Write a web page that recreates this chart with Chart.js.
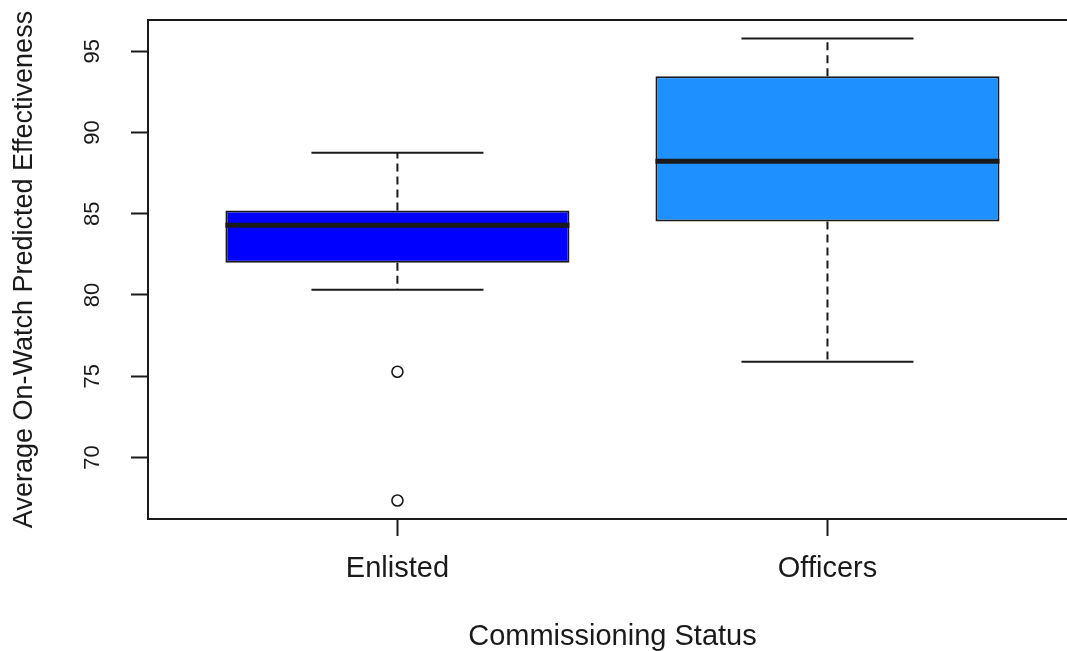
<!DOCTYPE html>
<html>
<head>
<meta charset="utf-8">
<script src="https://cdn.jsdelivr.net/npm/chart.js@4.4.1/dist/chart.umd.min.js"></script>
<style>
  html, body { margin: 0; padding: 0; background: #fff; overflow: hidden; }
</style>
</head>
<body>
<canvas id="boxChart" width="1084" height="651"></canvas>
<script>
const groups = ['Enlisted', 'Officers'];
const q1 = [81.98, 84.52];
const medians = [84.29, 88.23];
const q3 = [85.20, 93.46];
const whiskerLow = [80.32, 75.89];
const whiskerHigh = [88.75, 95.78];
const outliers = [[75.27, 67.35], []];
const yTicks = [70, 75, 80, 85, 90, 95];

const boxColors = ['#0000FF', '#1E90FF'];
const ink = '#1a1a1a';
const FONT = "'Liberation Sans', Arial, sans-serif";

// segmento de linha (mediana, bigode, haste)
function segment(x0, y0, x1, y1, width, dash) {
  return {
    type: 'line',
    data: [{ x: x0, y: y0 }, { x: x1, y: y1 }],
    borderColor: ink,
    borderWidth: width,
    borderDash: dash || [],
    borderCapStyle: 'butt',
    pointRadius: 0,
    fill: false,
    order: 1
  };
}

const datasets = [{
  type: 'bar',
  data: groups.map((g, i) => ({ x: i + 1, y: [q1[i], q3[i]] })),
  backgroundColor: boxColors,
  borderColor: ink,
  borderWidth: 2,
  borderSkipped: false,
  barPercentage: 1,
  categoryPercentage: 0.8,
  order: 2
}];

groups.forEach((g, i) => {
  const c = i + 1;
  datasets.push(segment(c, q3[i], c, whiskerHigh[i], 2, [8, 5]));
  datasets.push(segment(c, q1[i], c, whiskerLow[i], 2, [8, 5]));
  datasets.push(segment(c - 0.2, whiskerHigh[i], c + 0.2, whiskerHigh[i], 2));
  datasets.push(segment(c - 0.2, whiskerLow[i], c + 0.2, whiskerLow[i], 2));
  datasets.push(segment(c - 0.4, medians[i], c + 0.4, medians[i], 5));
});

datasets.push({
  type: 'scatter',
  data: outliers.flatMap((vals, i) => vals.map(v => ({ x: i + 1, y: v }))),
  pointRadius: 5.5,
  pointBorderWidth: 1.6,
  pointBorderColor: ink,
  pointBackgroundColor: 'rgba(0,0,0,0)',
  order: 0
});

// moldura em volta da área do gráfico
const framePlugin = {
  id: 'frame',
  afterDraw(chart) {
    const { ctx, chartArea: a } = chart;
    ctx.save();
    ctx.strokeStyle = ink;
    ctx.lineWidth = 2;
    ctx.strokeRect(a.left, a.top, a.right - a.left, a.bottom - a.top);
    ctx.restore();
  }
};

function noPadding(scale) {
  scale.paddingTop = 0;
  scale.paddingBottom = 0;
  scale.paddingLeft = 0;
  scale.paddingRight = 0;
}

const ctx = document.getElementById('boxChart').getContext('2d');
new Chart(ctx, {
  type: 'bar',
  data: { datasets },
  plugins: [framePlugin],
  options: {
    responsive: false,
    animation: false,
    devicePixelRatio: 1,
    layout: { padding: { top: 20, right: 1, left: 0, bottom: 0 } },
    plugins: { legend: { display: false }, tooltip: { enabled: false } },
    scales: {
      x: {
        type: 'linear',
        min: 0.42,
        max: 2.58,
        offset: false,
        afterBuildTicks: (scale) => { scale.ticks = groups.map((g, i) => ({ value: i + 1 })); },
        afterFit: (scale) => { scale.height = 132; noPadding(scale); },
        grid: { offset: false, drawOnChartArea: false, tickLength: 17, tickWidth: 2, tickColor: ink },
        border: { display: false },
        ticks: {
          autoSkip: false,
          maxRotation: 0,
          padding: 16,
          color: ink,
          font: { family: FONT, size: 29 },
          callback: (v) => groups[v - 1]
        },
        title: {
          display: true,
          text: 'Commissioning Status',
          color: ink,
          font: { family: FONT, size: 29, lineHeight: 1 },
          padding: { top: 0, bottom: 0 }
        }
      },
      y: {
        type: 'linear',
        min: 66.21,
        max: 96.92,
        afterBuildTicks: (scale) => { scale.ticks = yTicks.map(v => ({ value: v })); },
        afterFit: (scale) => { scale.width = 148; noPadding(scale); },
        grid: { drawOnChartArea: false, tickLength: 17, tickWidth: 2, tickColor: ink },
        border: { display: false },
        ticks: {
          minRotation: 90,
          maxRotation: 90,
          crossAlign: 'center',
          padding: 26,
          color: ink,
          font: { family: FONT, size: 22 }
        },
        title: {
          display: true,
          text: 'Average On-Watch Predicted Effectiveness',
          color: ink,
          font: { family: FONT, size: 27, lineHeight: 1.2 },
          padding: { top: 8, bottom: 0 }
        }
      }
    }
  }
});
</script>
</body>
</html>
